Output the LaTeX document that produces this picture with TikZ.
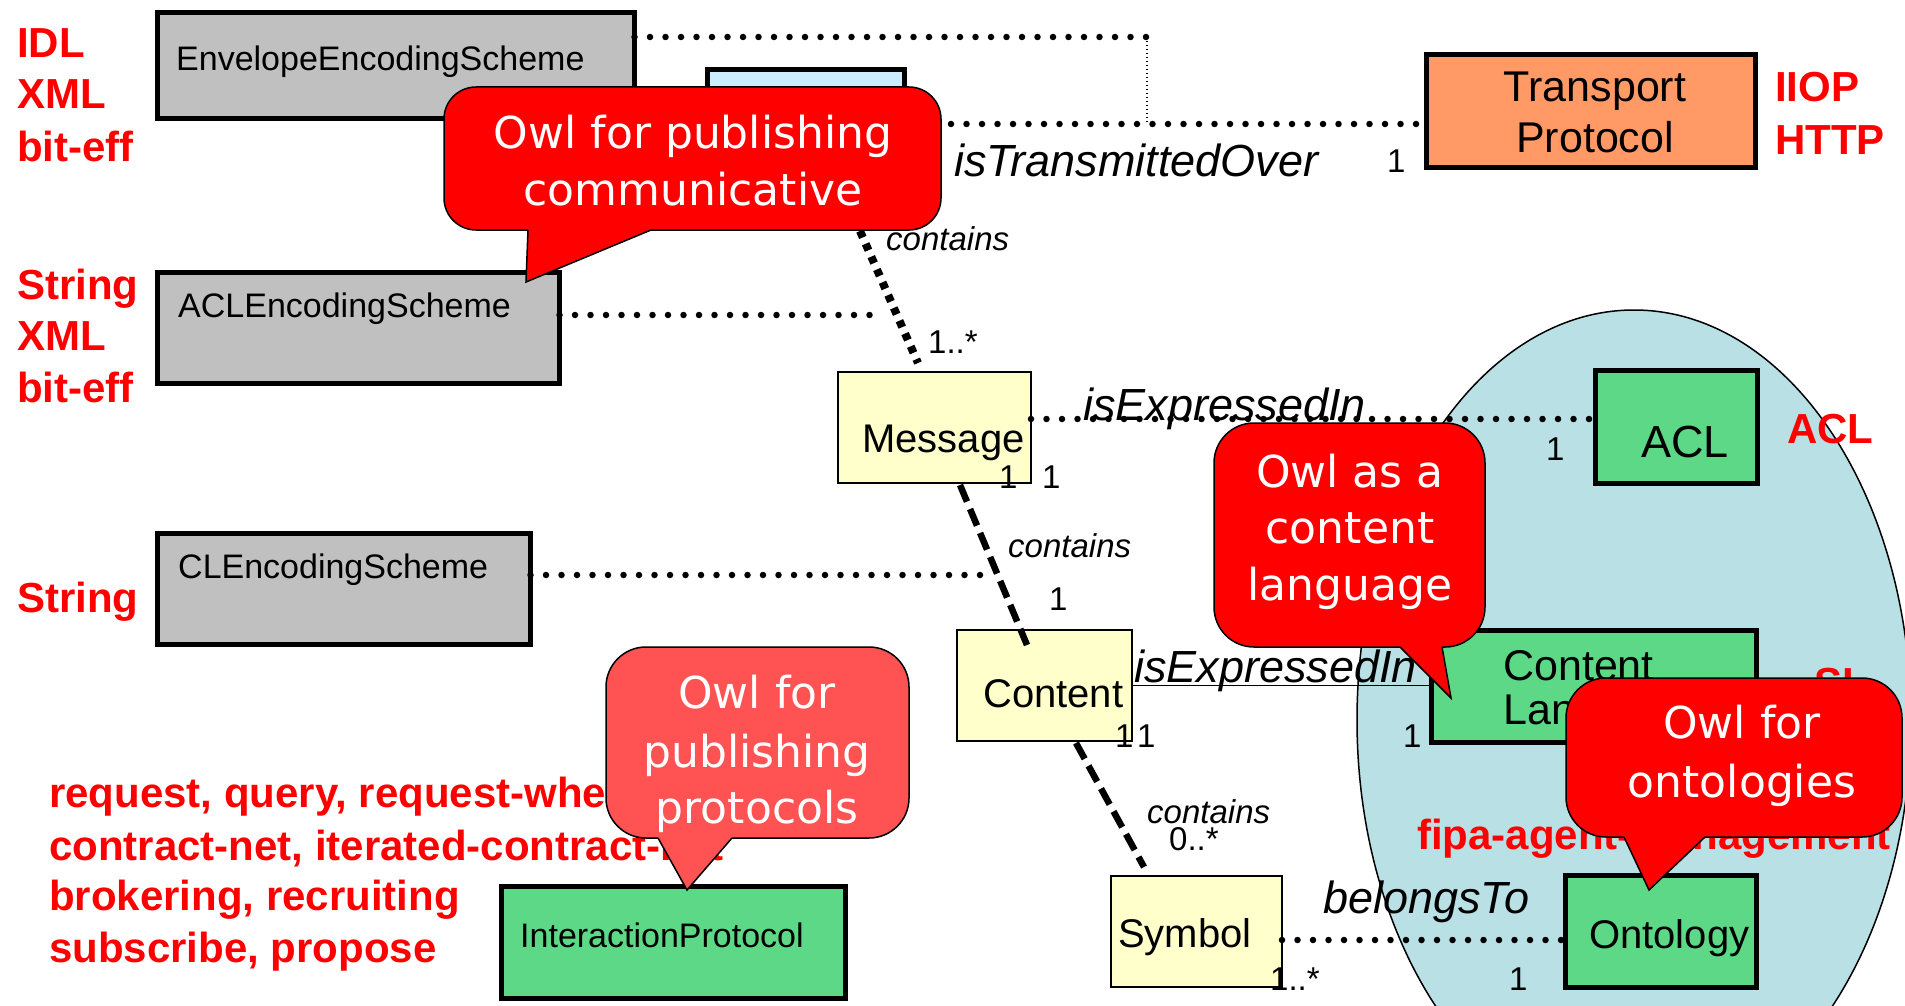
\documentclass[tikz,border=0pt]{standalone}
\usepackage{fontspec}
\setmainfont{Liberation Sans}
\newfontfamily\comicf{DejaVu Sans}
\usetikzlibrary{calc,shapes.geometric}
\definecolor{boxgray}{RGB}{192,192,192}
\definecolor{lbluebox}{RGB}{204,236,255}
\definecolor{orng}{RGB}{255,153,102}
\definecolor{lyel}{RGB}{255,255,204}
\definecolor{grn}{RGB}{92,216,134}
\definecolor{ellblue}{RGB}{185,224,228}
\definecolor{pinkred}{RGB}{255,82,82}
\begin{document}
\begin{tikzpicture}[x=1pt,y=-1pt,
  thickbox/.style={draw=black,line width=5pt,inner sep=0pt,outer sep=0pt},
  umlbox/.style={draw=black,line width=2pt,fill=lyel,inner sep=0pt,outer sep=0pt},
  boxtxt/.style={anchor=base west,inner sep=0pt,font=\fontsize{34}{40}\selectfont},
  clstxt/.style={anchor=base west,inner sep=0pt,font=\fontsize{40}{46}\selectfont},
  redlbl/.style={anchor=base west,inner sep=0pt,text=red,font=\bfseries\fontsize{42}{50}\selectfont},
  rolelbl/.style={anchor=base west,inner sep=0pt,font=\itshape\fontsize{45}{52}\selectfont},
  contlbl/.style={anchor=base west,inner sep=0pt,font=\itshape\fontsize{33}{40}\selectfont},
  multlbl/.style={anchor=base west,inner sep=0pt,font=\fontsize{33}{40}\selectfont},
  bigdots/.style={line width=6.5pt,line cap=round,dash pattern=on 0pt off 15.5pt},
  finedots/.style={line width=1.5pt,dash pattern=on 1.5pt off 2.5pt},
  squaredots/.style={line width=8pt,dash pattern=on 7pt off 7pt},
  longdash/.style={line width=6.5pt,dash pattern=on 18pt off 8pt},
  bubline/.style={draw=black,line width=1.5pt},
  bubtxt/.style={anchor=base,inner sep=0pt,text=white,font=\comicf\fontsize{44}{57}\selectfont}]
\useasboundingbox (0,0) rectangle (1905,1006);
\fill[white] (0,0) rectangle (1905,1006);

% language ellipse
\node[ellipse,draw=black,line width=1.5pt,fill=ellblue,inner sep=0pt,minimum width=554,minimum height=820] (langs) at (1634,720) {};

% boxes
\node[thickbox,fill=boxgray,minimum width=477,minimum height=106] (env) at (396,65.5) {};
\node[thickbox,fill=lbluebox,minimum width=197,minimum height=156.5] (tmsg) at (806,147.75) {};
\node[thickbox,fill=orng,minimum width=329,minimum height=113] (tp) at (1591,111) {};
\node[thickbox,fill=boxgray,minimum width=402,minimum height=111] (aclenc) at (358.5,328) {};
\node[thickbox,fill=boxgray,minimum width=373,minimum height=111] (clenc) at (344,589) {};
\node[umlbox,minimum width=193,minimum height=111] (msg) at (934.5,427.5) {};
\node[thickbox,fill=grn,minimum width=162,minimum height=113] (acl) at (1676.5,427) {};
\node[umlbox,minimum width=175,minimum height=111] (cont) at (1044.5,685.5) {};
\node[thickbox,fill=grn,minimum width=325,minimum height=112] (cl) at (1594,686.5) {};
\node[umlbox,minimum width=171,minimum height=111] (sym) at (1196.5,931.5) {};
\node[thickbox,fill=grn,minimum width=191,minimum height=112] (onto) at (1661,931.5) {};
\node[thickbox,fill=grn,minimum width=344,minimum height=112] (ip) at (673.5,942.5) {};

% box texts
\node[boxtxt] (envt) at (176,71) {EnvelopeEncodingScheme};
\node[boxtxt] (aclenct) at (178,317) {ACLEncodingScheme};
\node[boxtxt] (clenct) at (178,578) {CLEncodingScheme};
\node[boxtxt] (ipt) at (520,947) {InteractionProtocol};
\node[clstxt] (msgt) at (862,452) {Message};
\node[clstxt] (contt) at (983,707) {Content};
\node[clstxt] (symt) at (1118,947) {Symbol};
\node[clstxt] (ontot) at (1589,948) {Ontology};
\node[anchor=base west,inner sep=0pt,font=\fontsize{45}{50}\selectfont] (aclt) at (1641,457) {ACL};
\node[anchor=base,inner sep=0pt,font=\fontsize{43}{50}\selectfont] (tpt1) at (1595,102) {Transport};
\node[anchor=base,inner sep=0pt,font=\fontsize{43}{50}\selectfont] (tpt2) at (1595,152) {Protocol};
\node[anchor=base west,inner sep=0pt,font=\fontsize{43}{50}\selectfont] (clt1) at (1503,680) {Content};
\node[anchor=base west,inner sep=0pt,font=\fontsize{43}{50}\selectfont] (clt2) at (1503,724) {Language};

% connectors
\coordinate (jA) at (1147,37);
\coordinate (jB) at (1147,124);
\coordinate (jC) at (879,315);
\coordinate (jD) at (987,575);
\coordinate (cA) at (860,231);
\coordinate (cB) at (918,363);
\coordinate (dA) at (960,485);
\coordinate (dB) at (1027,645);
\coordinate (eA) at (1076,743);
\coordinate (eB) at (1144,867);
\draw[bigdots] (env.east |- jA) -- (jA);
\draw[finedots] (jA) -- (jB);
\draw[bigdots] (tmsg.east |- jB) -- (tp.west |- jB);
\draw[bigdots] (aclenc.east |- jC) -- (jC);
\draw[bigdots] (clenc.east |- jD) -- (jD);
\draw[squaredots] (cA) -- (cB);
\draw[longdash] (dA) -- (dB);
\draw[longdash] (eA) -- (eB);
\draw[bigdots] ([yshift=8.5pt]msg.east) -- ([yshift=8pt]acl.west);
\draw[line width=1.2pt] (cont.east) -- (cont.east -| cl.west);
\draw[bigdots] ([yshift=-8.5pt]sym.east) -- ([yshift=-8.5pt]sym.east -| onto.west);

% connector labels
\node[rolelbl] (lTrans) at (954,176) {isTransmittedOver};
\node[multlbl] (mTP) at (1387,172) {1};
\node[contlbl] (lc1) at (886,250) {contains};
\node[multlbl] (m1s) at (928,353) {1..*};
\node[rolelbl] (lExp1) at (1083,420) {isExpressedIn};
\node[multlbl] (mACL) at (1546,460) {1};
\node[multlbl] (mMsgA) at (999,488) {1};
\node[multlbl] (mMsgB) at (1042,488) {1};
\node[contlbl] (lc2) at (1008,557) {contains};
\node[multlbl] (mCont) at (1049,610) {1};
\node[rolelbl] (lExp2) at (1134,682) {isExpressedIn};
\node[multlbl] (mC1) at (1115,747) {1};
\node[multlbl] (mC2) at (1137,747) {1};
\node[multlbl] (mCL) at (1403,747) {1};
\node[contlbl] (lc3) at (1147,823) {contains};
\node[multlbl] (m0s) at (1169,850) {0..*};
\node[rolelbl] (lBel) at (1323,913) {belongsTo};
\node[multlbl] (mSym) at (1270,990) {1..*};
\node[multlbl] (mOnt) at (1509,990) {1};

% red annotations
\node[redlbl] (rIDL) at (17,58) {IDL};
\node[redlbl] (rXML1) at (17,109) {XML};
\node[redlbl] (rbit1) at (17,161) {bit-eff};
\node[redlbl] (rStr1) at (17,299) {String};
\node[redlbl] (rXML2) at (17,350) {XML};
\node[redlbl] (rbit2) at (17,402) {bit-eff};
\node[redlbl] (rStr2) at (17,612) {String};
\node[redlbl] (rIIOP) at (1775,102) {IIOP};
\node[redlbl] (rHTTP) at (1775,154) {HTTP};
\node[redlbl] (rACL) at (1787,443) {ACL};
\node[redlbl] (rSL) at (1814,697) {SL};
\node[redlbl] (rfipa) at (1417,849) {fipa-agent-management};
\node[redlbl] (rp1) at (49,807) {request, query, request-when};
\node[redlbl] (rp2) at (49,860) {contract-net, iterated-contract-net};
\node[redlbl] (rp3) at (49,910) {brokering, recruiting};
\node[redlbl] (rp4) at (49,962) {subscribe, propose};

% callout 1
\draw[bubline,fill=red,rounded corners=32pt] (444,87) rectangle (941,230);
\fill[red] (528,227) -- (528,230) -- (526,282) -- (651,230) -- (651,227) -- cycle;
\draw[bubline] (528,230) -- (526,282) -- (651,230);
\node[bubtxt] (b1a) at (693,148) {Owl for publishing};
\node[bubtxt] (b1b) at (693,205) {communicative};

% callout 2
\draw[bubline,fill=red,rounded corners=40pt] (1214,423) rectangle (1485,647);
\fill[red] (1400,644) -- (1400,647) -- (1451,698) -- (1442,647) -- (1442,644) -- cycle;
\draw[bubline] (1400,647) -- (1451,698) -- (1442,647);
\node[bubtxt] (b2a) at (1350,487) {Owl as a};
\node[bubtxt] (b2b) at (1350,543) {content};
\node[bubtxt] (b2c) at (1350,600) {language};

% callout 3
\draw[bubline,fill=pinkred,rounded corners=40pt] (606,647) rectangle (909,838);
\fill[pinkred] (658,835) -- (658,838) -- (687,890) -- (732,838) -- (732,835) -- cycle;
\draw[bubline] (658,838) -- (687,890) -- (732,838);
\node[bubtxt] (b3a) at (757,708) {Owl for};
\node[bubtxt] (b3b) at (757,767) {publishing};
\node[bubtxt] (b3c) at (757,823) {protocols};

% callout 4
\draw[bubline,fill=red,rounded corners=40pt] (1566,678) rectangle (1902,837);
\fill[red] (1624,834) -- (1624,837) -- (1649,890) -- (1705,837) -- (1705,834) -- cycle;
\draw[bubline] (1624,837) -- (1649,890) -- (1705,837);
\node[bubtxt] (b4a) at (1742,738) {Owl for};
\node[bubtxt] (b4b) at (1742,797) {ontologies};
\end{tikzpicture}
\end{document}
